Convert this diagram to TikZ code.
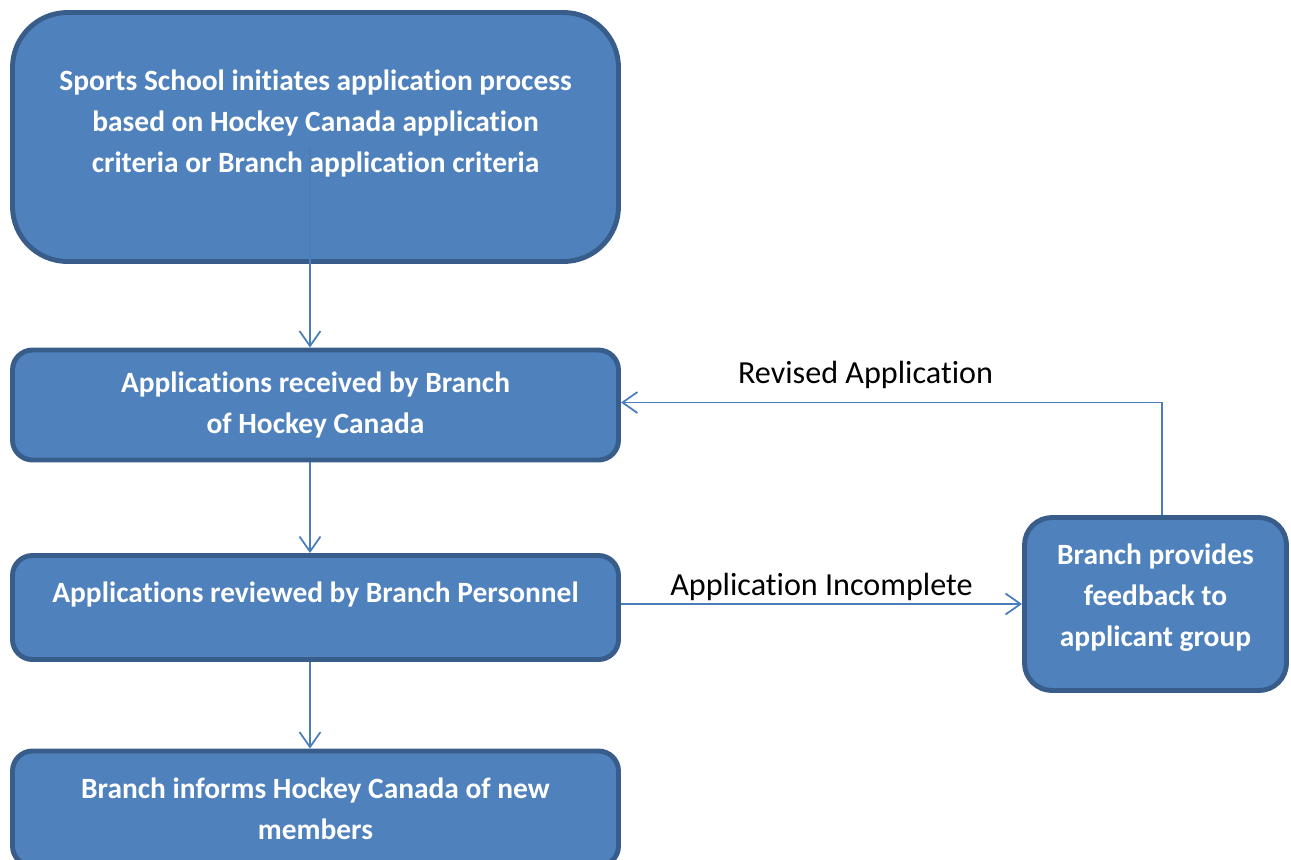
\documentclass[tikz,border=0pt]{standalone}
\usepackage{fontspec}
\setmainfont[Ligatures=NoCommon]{Carlito}
\usetikzlibrary{arrows.meta}

\definecolor{boxfill}{HTML}{4F81BD}
\definecolor{boxedge}{HTML}{385D8A}
\definecolor{flowline}{HTML}{4A7EBB}
\newcommand{\lowpad}{\rule[-0.62cm]{0pt}{0.62cm}}
\newcommand{\smallpad}{\rule[-0.34cm]{0pt}{0.34cm}}

\begin{document}
\begin{tikzpicture}[
  stepbox/.style={draw=boxedge, fill=boxfill, line width=2.8pt, text=white,
    align=center, inner sep=0pt, font=\bfseries\fontsize{16.75}{23.25}\selectfont},
  flow/.style={draw=flowline, line width=1pt, -{Straight Barb[length=0.3cm, width=0.42cm]}},
  flowlabel/.style={font=\fontsize{18.3}{21}\selectfont, inner sep=0pt}
]
\useasboundingbox (0,0) rectangle (25.82,-17.2);

\node[stepbox, minimum width=12.12cm, minimum height=4.98cm, rounded corners=1.1cm] (initiate) at (6.31,-2.74)
  {Sports School initiates application process\\ based on Hockey Canada application\\ criteria or Branch application criteria\lowpad};
\node[stepbox, minimum width=12.12cm, minimum height=2.2cm, rounded corners=0.4cm] (received) at (6.31,-8.1)
  {Applications received by Branch\\ of Hockey Canada};
\node[stepbox, minimum width=12.12cm, minimum height=2.08cm, rounded corners=0.4cm] (reviewed) at (6.31,-12.15)
  {Applications reviewed by Branch Personnel\lowpad};
\node[stepbox, minimum width=12.12cm, minimum height=2.3cm, rounded corners=0.4cm] (informs) at (6.31,-16.17)
  {Branch informs Hockey Canada of new\\ members};
\node[stepbox, minimum width=5.24cm, minimum height=3.46cm, rounded corners=0.55cm] (feedback) at (23.11,-12.08)
  {Branch provides\\ feedback to\\ applicant group\smallpad};

\coordinate (spine) at (6.2,-2.94);
\coordinate (back) at (23.24,-10.3);

\draw[flow] (spine) -- (spine |- received.north);
\draw[flow] (spine |- received.south) -- (spine |- reviewed.north);
\draw[flow] (spine |- reviewed.south) -- (spine |- informs.north);
\draw[flow] (reviewed.east |- feedback.west) -- (feedback.west)
  node[flowlabel, midway, above=0.04cm] (incomplete) {Application Incomplete};
\draw[flow] (back |- feedback.north) |- ([yshift=0.05cm]received.east)
  node[flowlabel, pos=0.774, above=0.26cm] (revised) {Revised Application};
\end{tikzpicture}
\end{document}
